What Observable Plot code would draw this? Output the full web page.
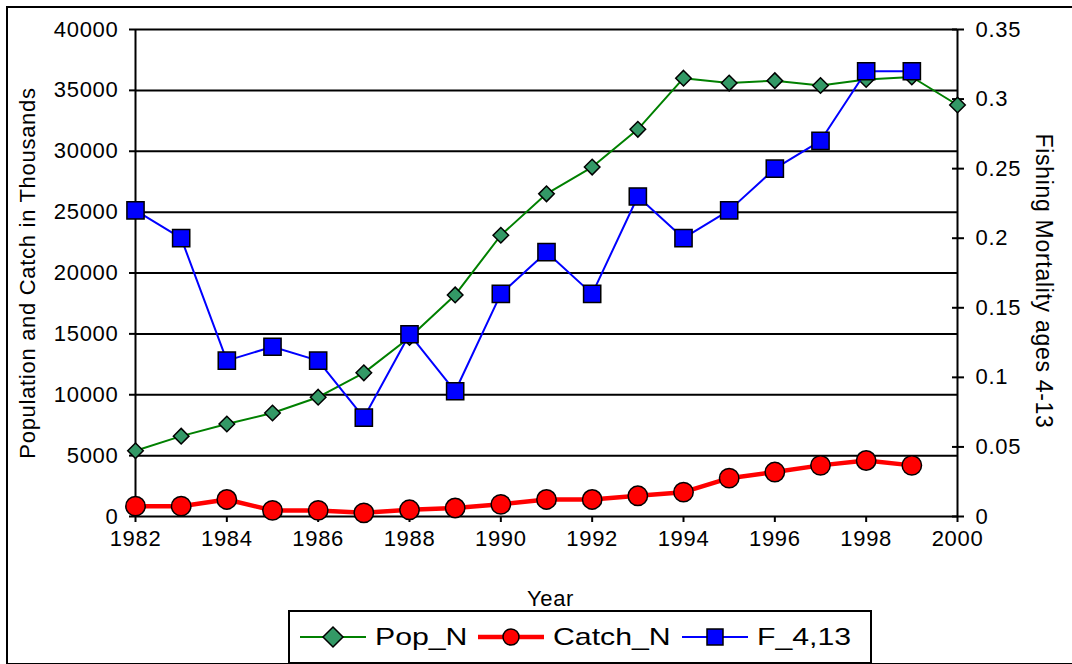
<!DOCTYPE html>
<html>
<head>
<meta charset="utf-8">
<script src="https://cdn.jsdelivr.net/npm/d3@7"></script>
<script src="https://cdn.jsdelivr.net/npm/@observablehq/plot@0.6"></script>
<style>
  html, body { margin: 0; padding: 0; background: #fff; }
  body { width: 1072px; height: 664px; position: relative; overflow: hidden; font-family: "Liberation Sans", Arial, sans-serif; }
  #chart { position: absolute; left: 0; top: 0; }
  #frame { position: absolute; left: 6px; top: 6px; width: 1090px; height: 659px; border: 2px solid #000; box-sizing: border-box; pointer-events: none; }
  #legend { position: absolute; left: 288px; top: 610px; width: 584px; height: 54px; border: 2px solid #000; box-sizing: border-box; background: #fff;
            display: flex; align-items: center; padding-left: 10px; font-size: 24px; color: #000; }
  #legend .sw { margin-right: 9px; display: block; flex: none; }
  #legend .lab { display: inline-block; transform: scaleX(1.26); transform-origin: left center; white-space: nowrap; flex: none; }
</style>
</head>
<body>
<div id="chart"></div>
<div id="frame"></div>
<div id="legend"></div>
<script>
// ---- data ----
const years = [1982,1983,1984,1985,1986,1987,1988,1989,1990,1991,1992,1993,1994,1995,1996,1997,1998,1999,2000];
const popN = [5400,6600,7600,8500,9800,11800,14700,18200,23100,26500,28700,31800,36000,35600,35800,35400,35900,36100,33800];
const catchN = [850,850,1400,500,500,300,550,700,1000,1400,1400,1700,2000,3150,3650,4200,4600,4200];
const fMort = [0.22,0.20,0.112,0.122,0.112,0.071,0.131,0.09,0.16,0.19,0.16,0.23,0.20,0.22,0.25,0.27,0.32,0.32];
const xTicks = [1982,1984,1986,1988,1990,1992,1994,1996,1998,2000];
const leftTicks = [0,5000,10000,15000,20000,25000,30000,35000,40000];
const rightTicks = [0,0.05,0.1,0.15,0.2,0.25,0.3,0.35];
const seriesNames = ["Pop_N","Catch_N","F_4,13"];
const seriesColors = ["#008000","#ff0000","#0000ff"];
const seriesFills = ["#339966","#ff0000","#0000ff"];
const leftTitle = "Population and Catch in Thousands";
const rightTitle = "Fishing Mortality ages 4-13";
const xTitle = "Year";

const leftMax = 40000, rightMax = 0.35;
const k = leftMax / rightMax;

const popData = popN.map((v,i) => ({year: years[i], v}));
const catchData = catchN.map((v,i) => ({year: years[i], v}));
const fData = fMort.map((v,i) => ({year: years[i], v: v * k}));

const plot = Plot.plot({
  width: 1072,
  height: 610,
  marginLeft: 135,
  marginRight: 115,
  marginTop: 29,
  marginBottom: 94,
  style: {fontFamily: "'Liberation Sans', Arial, sans-serif", fontSize: "22px", letterSpacing: "0.7px", color: "#000", background: "transparent"},
  x: {domain: [1982, 2000]},
  y: {domain: [0, leftMax]},
  marks: [
    Plot.ruleY(leftTicks.filter(d => d > 0), {stroke: "#000", strokeWidth: 2}),
    Plot.ruleX([1982, 2000], {stroke: "#000", strokeWidth: 2}),
    Plot.ruleY([0], {stroke: "#000", strokeWidth: 2}),
    Plot.axisY({anchor: "left", ticks: leftTicks, tickSize: 6, tickPadding: 11, tickFormat: d => String(d), label: null, strokeWidth: 2}),
    Plot.axisY({anchor: "right", ticks: rightTicks.map(v => v * k), tickSize: 6, tickPadding: 12,
                tickFormat: d => String(+(d / k).toFixed(2)), label: null, strokeWidth: 2}),
    Plot.axisY({anchor: "right", ticks: rightTicks.map(v => v * k), tickSize: 6, dx: -6, tickFormat: () => "", label: null, strokeWidth: 2}),
    Plot.axisX({ticks: xTicks, tickSize: 6, tickPadding: 8, tickFormat: d => String(d), label: null, strokeWidth: 2}),
    Plot.text([leftTitle], {text: d => d, frameAnchor: "left", textAnchor: "middle", lineAnchor: "middle", rotate: -90, dx: -108, fontSize: 22}),
    Plot.text([rightTitle], {text: d => d, frameAnchor: "right", textAnchor: "middle", lineAnchor: "middle", rotate: 90, dx: 86, dy: 8, fontSize: 23}),
    Plot.text([xTitle], {text: d => d, frameAnchor: "bottom", textAnchor: "middle", lineAnchor: "middle", dy: 82, dx: 4, fontSize: 22}),
    Plot.line(popData, {x: "year", y: "v", stroke: seriesColors[0], strokeWidth: 2}),
    Plot.dot(popData, {x: "year", y: "v", symbol: "diamond2", r: 7, fill: seriesFills[0], stroke: "#000", strokeWidth: 1.5}),
    Plot.line(catchData, {x: "year", y: "v", stroke: seriesColors[1], strokeWidth: 4.5}),
    Plot.dot(catchData, {x: "year", y: "v", symbol: "circle", r: 9.7, fill: seriesFills[1], stroke: "#000", strokeWidth: 1.5}),
    Plot.line(fData, {x: "year", y: "v", stroke: seriesColors[2], strokeWidth: 2}),
    Plot.dot(fData, {x: "year", y: "v", symbol: "square", r: 9.7, fill: seriesFills[2], stroke: "#000", strokeWidth: 1.5})
  ]
});
document.getElementById("chart").appendChild(plot);

// ---- legend ----
const legend = document.getElementById("legend");
const symbols = ["diamond", "circle", "square"];
const lineWidths = [2, 4.5, 2];
const stretch = 1.26;
seriesNames.forEach((name, i) => {
  const ns = "http://www.w3.org/2000/svg";
  const sw = document.createElementNS(ns, "svg");
  sw.setAttribute("width", 66); sw.setAttribute("height", 30); sw.setAttribute("class", "sw");
  const ln = document.createElementNS(ns, "line");
  ln.setAttribute("x1", 0); ln.setAttribute("x2", 66); ln.setAttribute("y1", 15); ln.setAttribute("y2", 15);
  ln.setAttribute("stroke", seriesColors[i]); ln.setAttribute("stroke-width", lineWidths[i]);
  sw.appendChild(ln);
  let sym;
  if (symbols[i] === "diamond") {
    sym = document.createElementNS(ns, "path");
    sym.setAttribute("d", "M33,5L43,15L33,25L23,15Z");
  } else if (symbols[i] === "circle") {
    sym = document.createElementNS(ns, "circle");
    sym.setAttribute("cx", 33); sym.setAttribute("cy", 15); sym.setAttribute("r", 8);
  } else {
    sym = document.createElementNS(ns, "rect");
    sym.setAttribute("x", 25); sym.setAttribute("y", 7); sym.setAttribute("width", 16); sym.setAttribute("height", 16);
  }
  sym.setAttribute("fill", seriesFills[i]); sym.setAttribute("stroke", "#000"); sym.setAttribute("stroke-width", 1.5);
  sw.appendChild(sym);
  legend.appendChild(sw);
  const lab = document.createElement("span");
  lab.className = "lab";
  lab.textContent = name;
  legend.appendChild(lab);
  const w = lab.offsetWidth;
  lab.style.marginRight = (w * (stretch - 1) + 11) + "px";
});
</script>
</body>
</html>
